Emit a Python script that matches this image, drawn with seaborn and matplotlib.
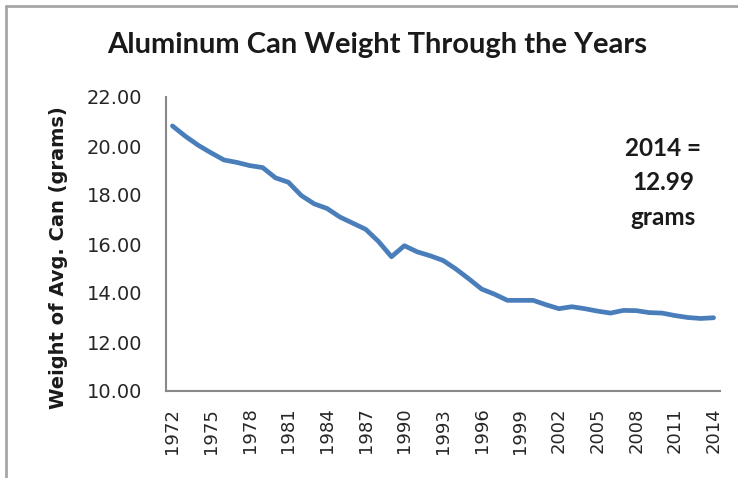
import matplotlib
matplotlib.use("Agg")
import matplotlib.pyplot as plt
import seaborn as sns
import pandas as pd
from matplotlib.lines import Line2D

years = list(range(1972, 2015))
weights = [20.82, 20.40, 20.03, 19.72, 19.43, 19.33, 19.20, 19.12, 18.70, 18.52,
           17.98, 17.64, 17.45, 17.10, 16.85, 16.60, 16.10, 15.48, 15.93, 15.68,
           15.52, 15.33, 14.98, 14.58, 14.16, 13.95, 13.70, 13.70, 13.70, 13.52,
           13.36, 13.44, 13.36, 13.26, 13.18, 13.29, 13.28, 13.20, 13.18, 13.08,
           13.00, 12.96, 12.99]
y_ticks = [10, 12, 14, 16, 18, 20, 22]
x_ticks = list(range(1972, 2015, 3))
title = "Aluminum Can Weight Through the Years"
ylabel = "Weight of Avg. Can (grams)"
note = "2014 =\n12.99\ngrams"

sns.set_theme(style="white")
plt.rcParams['font.family'] = ['DejaVu Sans']

df = pd.DataFrame({"Year": years, "Weight": weights})

fig = plt.figure(figsize=(7.38, 4.78), dpi=100)
ax = fig.add_axes([166/738, 1-391/478, (720-166)/738, (391-97)/478])

sns.lineplot(data=df, x="Year", y="Weight", ax=ax, color="#4A7EBB", linewidth=3.4)

ax.set_xlim(1971.5, 2014.5)
ax.set_ylim(10, 22)
ax.set_yticks(y_ticks)
ax.set_yticklabels([f"{v:.2f}" for v in y_ticks], fontsize=14, color="#262626")
ax.set_xticks(x_ticks)
ax.set_xticklabels([str(v) for v in x_ticks], rotation=90, fontsize=13, color="#262626")
ax.tick_params(axis='y', length=0, pad=17)
ax.tick_params(axis='x', length=0, pad=12)
ax.set_xlabel("")
ax.set_ylabel(ylabel, fontsize=14, fontweight="bold", color="#1a1a1a")
ax.yaxis.set_label_coords(-0.177, 0.452)
ax.grid(False)
for s in ["top", "right"]:
    ax.spines[s].set_visible(False)
for s in ["left", "bottom"]:
    ax.spines[s].set_color("#888888")
    ax.spines[s].set_linewidth(1.5)

fig.text(377/738, 1-45/478, title, ha="center", va="center", fontsize=21,
         fontweight="bold", family=["Lato", "DejaVu Sans"], color="#1a1a1a")
fig.text(663/738, 1-183/478, note, ha="center", va="center", fontsize=17.5,
         fontweight="bold", family=["Lato", "DejaVu Sans"], color="#1a1a1a",
         linespacing=1.62)

# outer chart frame (top and left edges)
fig.add_artist(Line2D([6/738, 1], [1-6/478, 1-6/478], transform=fig.transFigure,
                      color="#a6a6a6", linewidth=2))
fig.add_artist(Line2D([6/738, 6/738], [0, 1-6/478], transform=fig.transFigure,
                      color="#a6a6a6", linewidth=2))

fig.savefig("out.png", dpi=100)
